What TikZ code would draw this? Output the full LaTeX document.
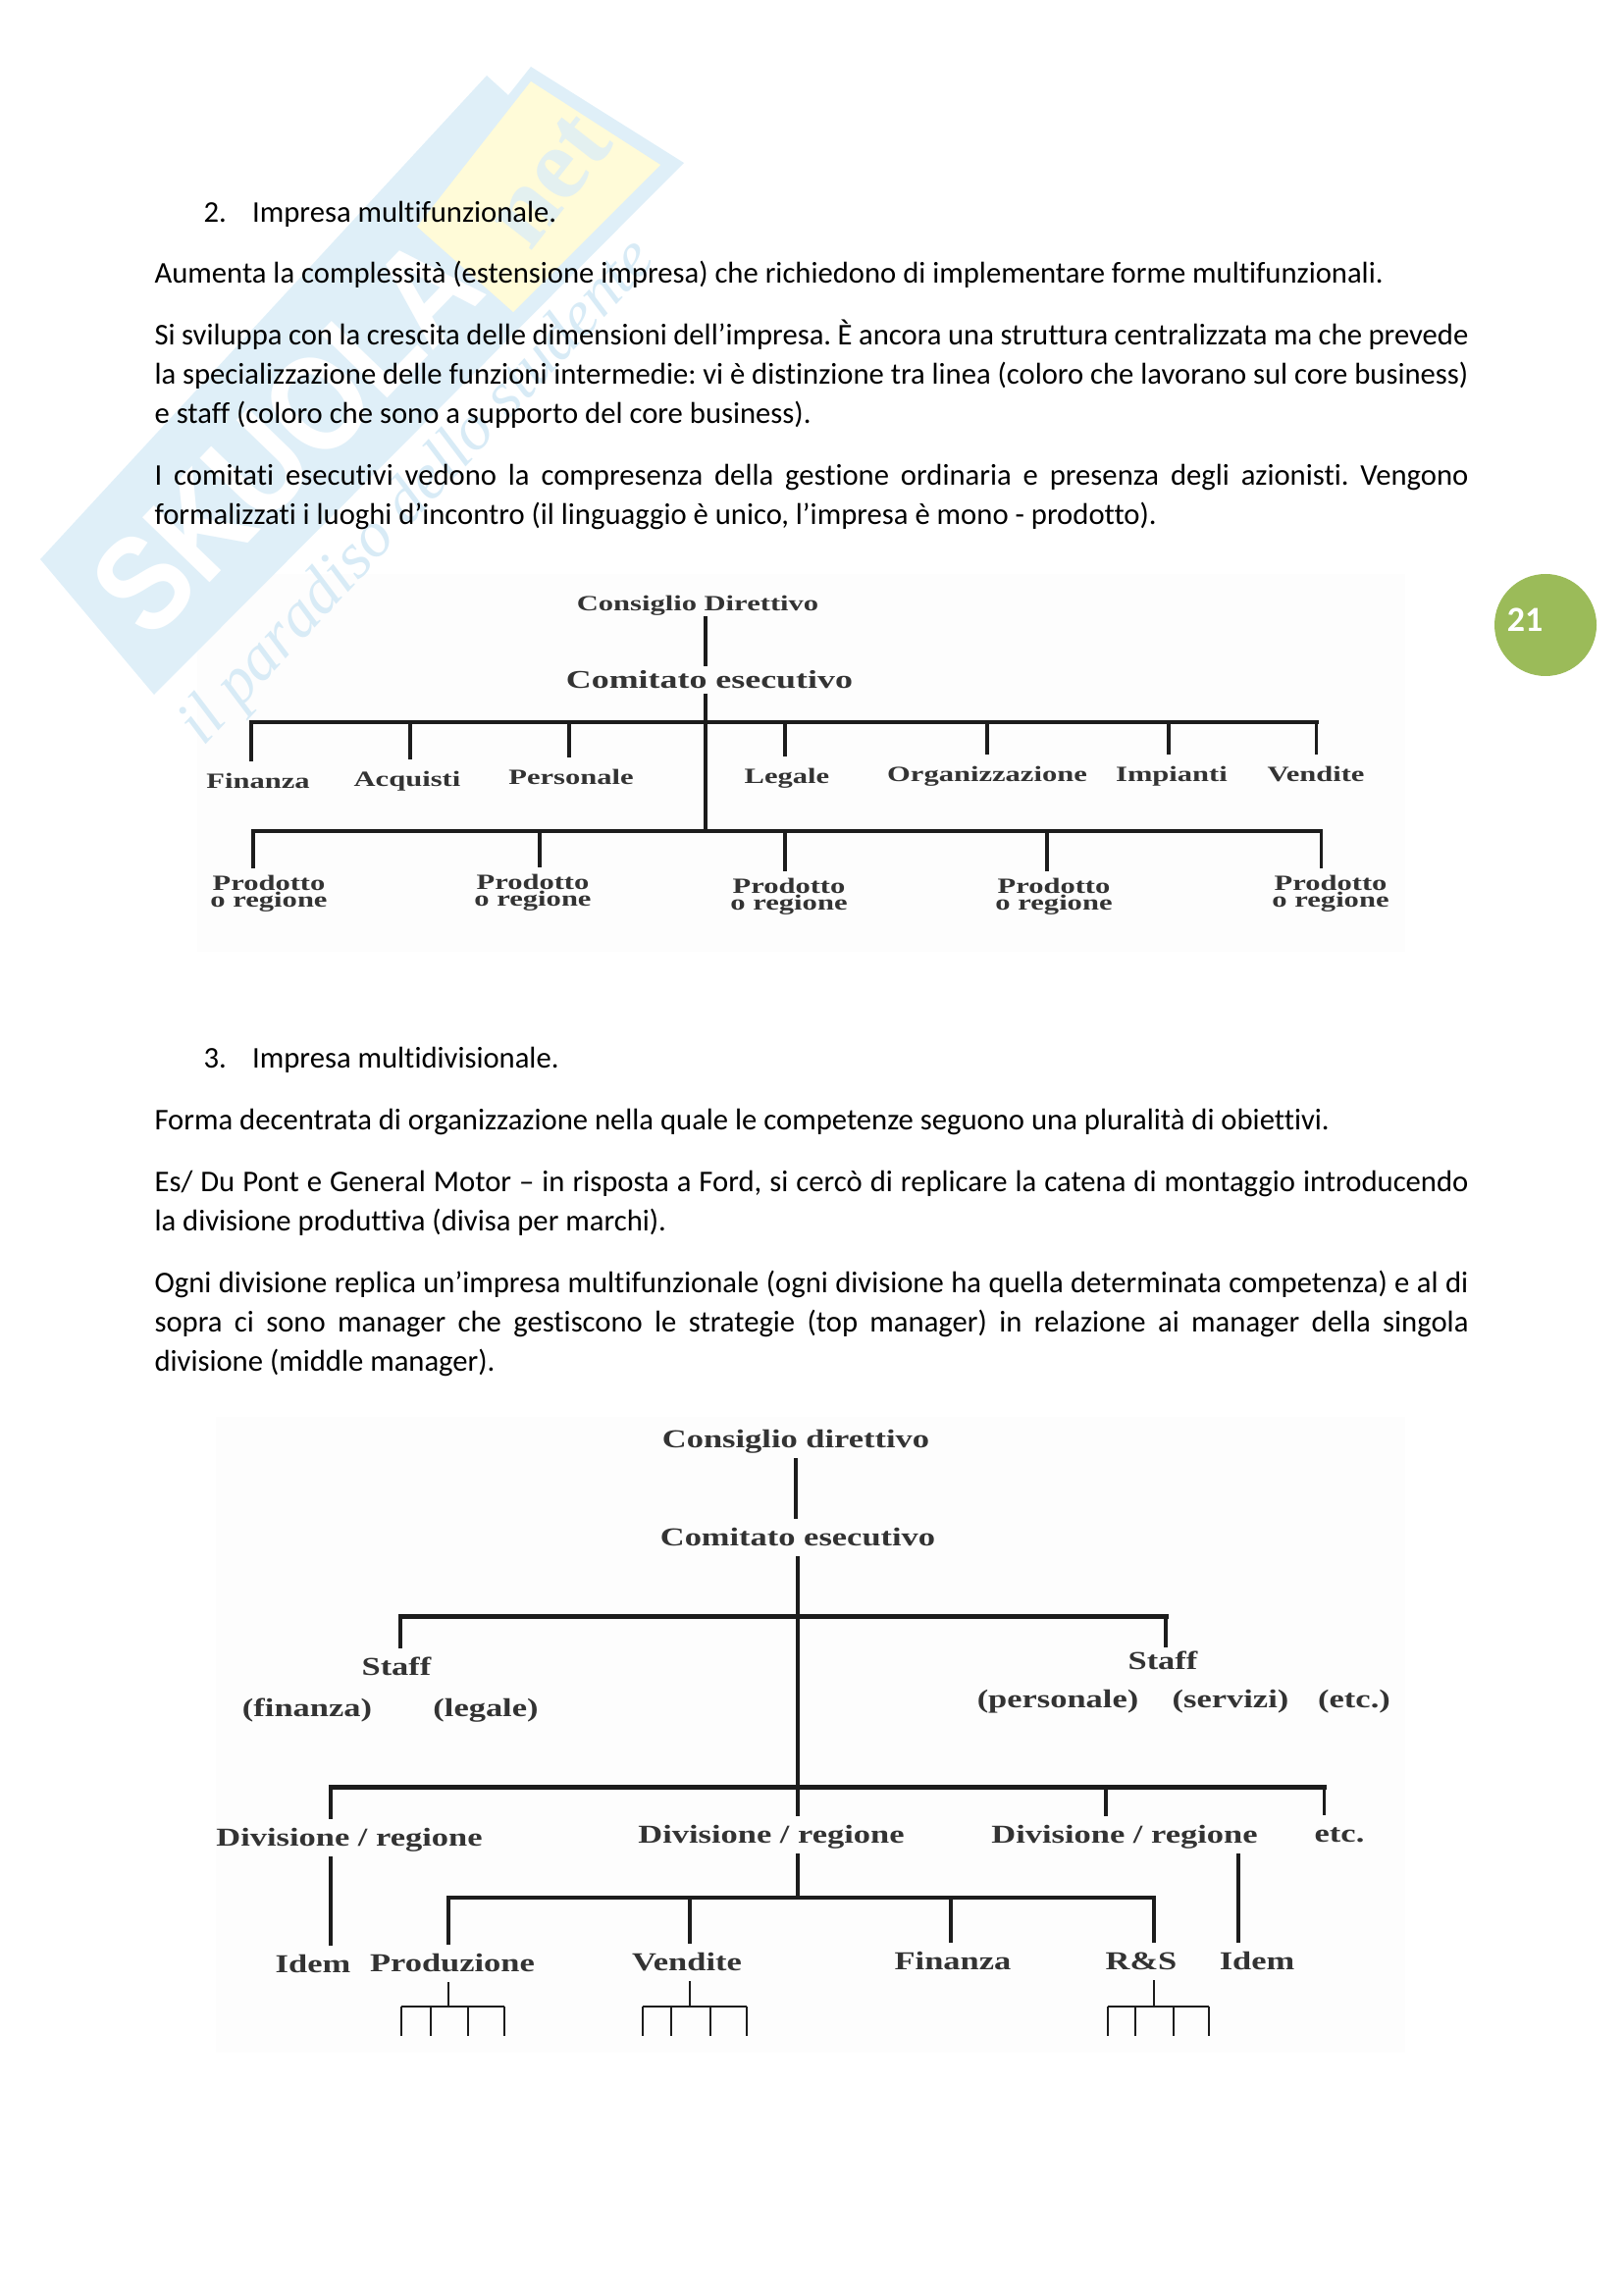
\documentclass[tikz,border=0pt]{standalone}
\usepackage{fontspec}
\setmainfont[Ligatures={NoCommon,TeX}]{Carlito}
\newfontfamily\sharpfont[FakeStretch=.85]{Liberation Sans}
\newfontfamily\handfont{Liberation Serif}
\newfontfamily\scanA[FakeStretch=1.38]{Liberation Serif}
\newfontfamily\scanB[FakeStretch=1.31]{Liberation Serif}
\usetikzlibrary{calc,positioning}
\definecolor{inkc}{HTML}{1C1C1C}
\definecolor{labc}{HTML}{333333}
\definecolor{skyc}{HTML}{DFEFF8}
\definecolor{butterc}{HTML}{FFFBD8}
\definecolor{scriptc}{HTML}{D8EBF6}
\definecolor{netc}{HTML}{E3F0F0}
\definecolor{leafc}{HTML}{9BBB59}
\tikzset{
  para/.style={anchor=north west,inner sep=0pt,text width=170.05mm,align=justify,font=\fontsize{11.08}{14.4}\selectfont,execute at begin node={\frenchspacing\hyphenpenalty=10000\strut}},
  link/.style={inkc,line width=1.1pt},
  bus/.style={inkc,line width=1.8pt,line cap=rect},
  tine/.style={inkc,line width=.9pt},
  headA/.style={font=\scanA\bfseries\fontsize{9.4}{9.4}\selectfont,text=labc,inner sep=0pt,outer sep=1pt,text height=7pt,text depth=1pt},
  labA/.style={font=\scanA\bfseries\fontsize{8}{8}\selectfont,text=labc,inner sep=0pt,outer sep=3pt,text height=7pt,text depth=1pt},
  prodA/.style={font=\scanA\bfseries\fontsize{8}{6}\selectfont,text=labc,inner sep=0pt,outer sep=2.9pt,align=center},
  labB/.style={font=\scanB\bfseries\fontsize{9.5}{9.5}\selectfont,text=labc,inner sep=0pt,outer sep=3pt,text height=7pt,text depth=1pt}
}
\begin{document}
\begin{tikzpicture}[x=0.127mm,y=-0.127mm]
\useasboundingbox (0,0) rectangle (1654,2339);
% scanned sheets
\fill[black!.7] (201,585) rectangle (1432,970);
\fill[black!.7] (220,1444) rectangle (1432,2092);
% watermark
\fill[skyc] (41,570)--(496,77)--(518,97)--(541,68)--(697,166)--(157,708)--cycle;
\fill[butterc] (425,231)--(541,83)--(673,168)--(523,318)--cycle;
\node[rotate=46,white,font=\sharpfont\bfseries\fontsize{50}{50}\selectfont,inner sep=0pt] (wmark) at (292,444) {SKUOLA};
\node[rotate=52,netc,font=\handfont\bfseries\fontsize{38}{38}\selectfont,inner sep=0pt] (wnet) at (561,184) {net};
\node[rotate=47,scriptc,font=\handfont\itshape\fontsize{24}{24}\selectfont,inner sep=0pt] (wscript) at (427,503) {il paradiso dello studente};
% page mark
\fill[leafc] (1575,637) circle (52);
\node[white,font=\bfseries\fontsize{13}{13}\selectfont,inner sep=0pt] (pageno) at (1554,632) {21};
% text of the page
\node[para] (titleA) at (207,198) {2.\hspace{9.5pt}Impresa multifunzionale.};
\node[para] (parA) at (157,260) {Aumenta la complessità (estensione impresa) che richiedono di implementare forme multifunzionali.};
\node[para] (parB) at (157,323) {Si sviluppa con la crescita delle dimensioni dell’impresa. È ancora una struttura centralizzata ma che prevede\linebreak la specializzazione delle funzioni intermedie: vi è distinzione tra linea (coloro che lavorano sul core business)\linebreak e staff (coloro che sono a supporto del core business).};
\node[para] (parC) at (157,466) {I comitati esecutivi vedono la compresenza della gestione ordinaria e presenza degli azionisti. Vengono\linebreak formalizzati i luoghi d’incontro (il linguaggio è unico, l’impresa è mono - prodotto).};
\node[para] (titleB) at (207,1060) {3.\hspace{9.5pt}Impresa multidivisionale.};
\node[para] (parD) at (157,1123) {Forma decentrata di organizzazione nella quale le competenze seguono una pluralità di obiettivi.};
\node[para] (parE) at (157,1186) {Es/ Du Pont e General Motor – in risposta a Ford, si cercò di replicare la catena di montaggio introducendo\linebreak la divisione produttiva (divisa per marchi).};
\node[para] (parF) at (157,1289) {Ogni divisione replica un’impresa multifunzionale (ogni divisione ha quella determinata competenza) e al di\linebreak sopra ci sono manager che gestiscono le strategie (top manager) in relazione ai manager della singola\linebreak divisione (middle manager).};
% first chart
\node[headA,font=\scanA\bfseries\fontsize{8}{8}\selectfont] (consA) at (711,614) {Consiglio Direttivo};
\node[headA] (comA) at (723,693) {Comitato esecutivo};
\coordinate (axisA) at (719,736);
\coordinate (lowA) at (719,847);
\draw[link] (axisA |- consA.south) -- (axisA |- comA.north);
\draw[link] (axisA |- comA.south) -- (lowA);
\draw[bus] (256,736) coordinate (busAl) -- (1341,736) coordinate (busAr);
\draw[bus,line width=1.5pt] (258,847) coordinate (busBl) -- (1346,847) coordinate (busBr);
\foreach \n/\lx/\ly/\dx/\t in {finA/263/795/256/Finanza,acqA/415/793/418/Acquisti,perA/582/791/580/Personale,legA/802/790/800/Legale,orgA/1006/788/1006/Organizzazione,impA/1194/788/1191/Impianti,venA/1341/788/1341/Vendite}{
  \node[labA] (\n) at (\lx,\ly) {\t};
  \coordinate (d\n) at (\dx,736);
  \draw[link] (d\n) -- (d\n |- \n.north);
}
\foreach \n/\lx/\ly/\dx in {proA/274/911/258,proB/543/910/550,proC/804/914/800,proD/1074/914/1067,proE/1356/911/1346}{
  \node[prodA] (\n) at (\lx,\ly) {Prodotto\\o regione};
  \coordinate (d\n) at (\dx,847);
  \draw[link] (d\n) -- (d\n |- \n.north);
}
% second chart
\node[labB] (consB) at (811,1467) {Consiglio direttivo};
\node[labB] (comB) at (813,1567) {Comitato esecutivo};
\coordinate (axisB) at (813,1647);
\draw[link,line width=1.3pt] (consB.south) -- (consB.south |- comB.north);
\draw[bus] (408,1647) coordinate (busCl) -- (1188,1647) coordinate (busCr);
\draw[bus] (337,1821) coordinate (busDl) -- (1349,1821) coordinate (busDr);
\node[labB] (staffL) at (404,1699) {Staff};
\node[labB,outer sep=1pt] (staffR) at (1185,1693) {Staff};
\node[labB] (finB) at (313,1741) {(finanza)};
\node[labB] (legB) at (495,1741) {(legale)};
\node[labB] (perB) at (1078,1732) {(personale)};
\node[labB] (serB) at (1254,1732) {(servizi)};
\node[labB] (etcB) at (1380,1732) {(etc.)};
\node[labB] (divL) at (356,1873) {Divisione / regione};
\node[labB] (divM) at (786,1870) {Divisione / regione};
\node[labB] (divR) at (1146,1870) {Divisione / regione};
\node[labB] (etcD) at (1365,1869) {etc.};
\node[labB] (idemL) at (319,2002) {Idem};
\node[labB] (prodB) at (461,2001) {Produzione};
\node[labB] (vendB) at (700,2000) {Vendite};
\node[labB] (finC) at (971,1999) {Finanza};
\node[labB] (rsB) at (1163,1999) {R\&S};
\node[labB] (idemR) at (1281,1999) {Idem};
\draw[link] (axisB |- comB.south) -- (axisB |- divM.north);
\draw[link,line width=1.4pt] (busCl) -- (busCl |- staffL.north);
\draw[link,line width=1.4pt] (busCr) -- (busCr |- staffR.north);
\draw[link] (busDl) -- (busDl |- divL.north);
\draw[link] (1127,1821) coordinate (dropD) -- (dropD |- divR.north);
\draw[link] (busDr) -- (busDr |- etcD.north);
\draw[link,line width=1.4pt] (busDl |- divL.south) -- (busDl |- idemL.north);
\coordinate (rightD) at (1262,1890);
\draw[link,line width=1.4pt] (rightD |- divR.south) -- (rightD |- idemR.north);
\coordinate (busEm) at (813,1934);
\draw[link] (busEm |- divM.south) -- (busEm);
\draw[bus,line width=1.5pt] (457,1934) coordinate (busEl) -- (1176,1934) coordinate (busEr);
\draw[link,line width=1.4pt] (busEl) -- (busEl |- prodB.north);
\draw[link,line width=1.4pt] (703,1934) coordinate (dropV) -- (dropV |- vendB.north);
\draw[link] (969,1934) coordinate (dropF) -- (dropF |- finC.north);
\draw[link,line width=1.4pt] (busEr) -- (busEr |- rsB.north);
% small forks under the labels
\foreach \n/\st/\a/\b/\c/\d in {prodB/457/409/439/477/514,vendB/703/655/684/724/761,rsB/1176/1129/1157/1196/1232}{
  \coordinate (k\n) at (\st,2045);
  \draw[tine] (k\n |- \n.south) -- (k\n);
  \draw[tine] (\a,2045) coordinate (kl) -- (\d,2045) coordinate (kr);
  \foreach \q in {\a,\b,\c,\d}{
    \coordinate (tp) at (\q,2045);
    \coordinate (te) at (\q,2075);
    \draw[tine] (tp) -- (te);
  }
}
\end{tikzpicture}
\end{document}
